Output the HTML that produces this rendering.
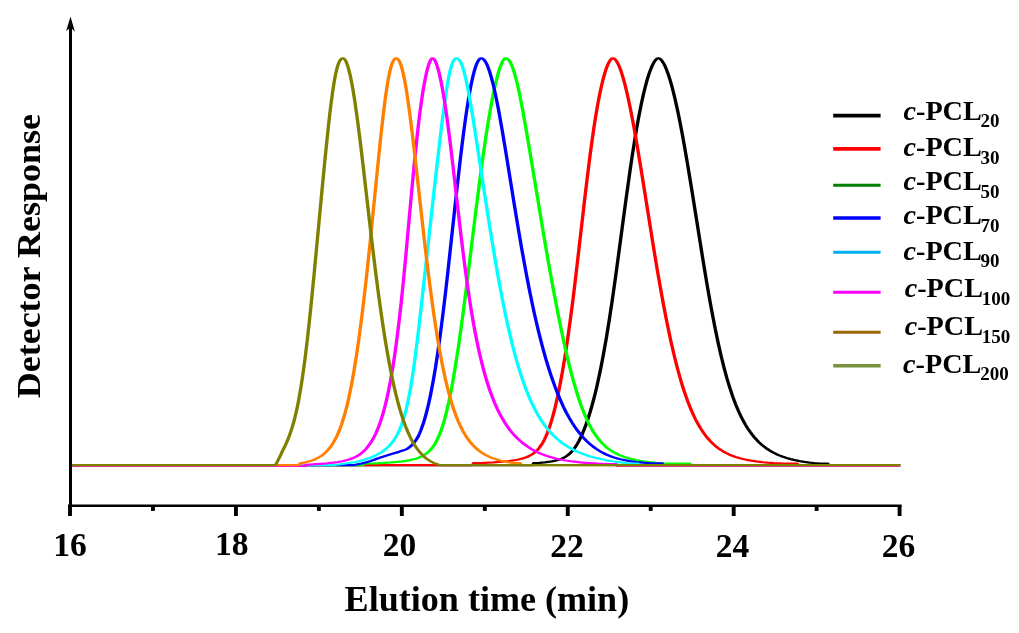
<!DOCTYPE html>
<html lang="en"><head><meta charset="utf-8"><title>GPC traces of c-PCL</title>
<style>html,body{margin:0;padding:0;background:#fff}body{width:1019px;height:633px;overflow:hidden}svg{display:block}</style></head>
<body>
<svg width="1019" height="633" viewBox="0 0 1019 633">
<rect width="1019" height="633" fill="#fff"/>
<g transform="scale(1.5 1)" fill="none" stroke-width="2.25" stroke-linejoin="round" stroke-linecap="butt">
<path stroke="#000000" d="M46.93 465.00 L355.27 465.00 L355.80 463.00 L359.40 462.80 L363.23 462.29 L366.49 461.69 L367.94 461.34 L369.61 460.86 L370.84 460.43 L371.99 459.97 L373.06 459.46 L374.31 458.77 L375.25 458.16 L376.14 457.50 L376.98 456.79 L377.99 455.81 L379.32 454.28 L380.75 452.26 L382.12 449.92 L383.45 447.23 L384.77 444.15 L385.92 441.10 L387.23 437.17 L388.39 433.32 L389.72 428.40 L390.91 423.62 L392.11 418.36 L393.32 412.60 L394.54 406.33 L395.77 399.51 L397.01 392.13 L398.07 385.36 L400.21 370.53 L402.17 355.43 L404.30 337.36 L406.42 317.70 L408.35 298.43 L410.45 276.23 L417.33 199.41 L420.07 170.07 L421.56 155.00 L423.08 140.53 L424.43 128.47 L425.80 117.08 L427.58 103.58 L429.18 92.81 L430.19 86.72 L430.99 82.22 L431.80 78.08 L432.59 74.31 L433.38 70.91 L434.16 67.91 L434.92 65.29 L435.86 62.60 L436.58 60.91 L436.93 60.22 L437.44 59.38 L437.77 58.95 L438.09 58.63 L438.40 58.42 L438.85 58.30 L439.38 58.43 L439.74 58.65 L440.11 58.99 L440.48 59.44 L440.86 60.01 L441.63 61.47 L442.42 63.38 L443.23 65.72 L444.04 68.48 L444.87 71.67 L445.71 75.27 L446.56 79.26 L447.42 83.64 L448.28 88.38 L450.02 98.92 L451.77 110.75 L453.31 122.04 L454.85 134.10 L456.38 146.82 L458.14 162.03 L461.20 189.88 L468.80 261.34 L470.98 281.01 L472.95 298.08 L474.94 314.42 L476.96 329.92 L479.00 344.51 L480.85 356.66 L482.74 368.02 L484.67 378.58 L486.64 388.32 L488.41 396.20 L490.47 404.47 L491.53 408.31 L492.60 411.98 L493.68 415.46 L494.78 418.76 L495.90 421.89 L497.03 424.86 L498.46 428.34 L499.92 431.57 L501.41 434.57 L502.93 437.35 L504.47 439.92 L506.03 442.29 L507.63 444.48 L509.57 446.86 L511.22 448.67 L513.23 450.63 L515.28 452.39 L517.36 453.96 L519.46 455.36 L521.96 456.80 L524.49 458.05 L527.05 459.12 L530.00 460.17 L532.97 461.05 L536.32 461.87 L539.67 462.53 L542.62 463.01 L545.54 463.40 L551.87 463.50 L552.40 465.00 L600.13 465.00"/>
<path stroke="#ff0000" d="M46.93 465.00 L315.20 465.00 L315.73 463.10 L320.36 463.00 L323.04 462.83 L328.70 462.40 L332.95 461.96 L336.71 461.46 L339.51 460.99 L342.03 460.47 L344.75 459.76 L346.40 459.23 L348.28 458.50 L349.66 457.87 L351.25 456.99 L352.43 456.23 L353.79 455.19 L354.81 454.28 L355.99 453.04 L357.31 451.39 L358.54 449.56 L359.68 447.51 L360.94 444.85 L361.97 442.30 L362.96 439.50 L363.92 436.41 L365.02 432.44 L366.11 428.03 L367.02 423.89 L368.09 418.61 L369.00 413.68 L370.07 407.44 L370.98 401.66 L372.05 394.38 L372.97 387.69 L374.81 373.01 L376.65 356.59 L378.49 338.46 L380.32 318.71 L382.00 299.31 L383.81 276.95 L389.77 199.46 L392.14 169.87 L393.43 154.67 L394.75 140.08 L395.92 127.93 L397.11 116.48 L398.67 102.92 L400.08 92.13 L400.97 86.04 L401.68 81.56 L402.38 77.44 L403.09 73.70 L403.79 70.34 L404.48 67.38 L405.16 64.82 L406.00 62.21 L406.64 60.59 L407.26 59.40 L407.56 58.96 L407.86 58.64 L408.14 58.42 L408.55 58.30 L409.05 58.43 L409.39 58.65 L409.73 58.99 L410.25 59.71 L410.96 61.06 L411.51 62.37 L412.24 64.49 L412.99 67.05 L413.75 70.03 L415.10 76.23 L415.88 80.32 L416.67 84.79 L418.08 93.48 L419.70 104.69 L420.94 113.89 L422.39 125.41 L423.85 137.67 L425.33 150.56 L428.09 175.80 L435.91 249.26 L438.13 269.29 L440.37 288.68 L442.64 307.26 L444.95 324.85 L447.28 341.35 L449.41 355.19 L450.61 362.44 L451.81 369.39 L454.02 381.09 L455.01 385.96 L456.26 391.77 L457.52 397.27 L458.79 402.47 L459.83 406.41 L461.13 411.08 L462.45 415.46 L463.78 419.56 L464.86 422.65 L466.23 426.28 L467.62 429.66 L469.02 432.80 L470.46 435.71 L471.91 438.41 L473.39 440.90 L475.20 443.63 L476.75 445.70 L478.64 447.97 L480.26 449.68 L482.25 451.54 L483.95 452.94 L486.05 454.45 L488.22 455.80 L490.47 456.99 L492.80 458.05 L495.21 458.98 L497.73 459.80 L500.80 460.63 L504.03 461.34 L507.95 462.03 L511.59 462.53 L516.03 463.01 L520.78 463.40 L531.33 463.50 L531.87 465.00 L600.13 465.00"/>
<path stroke="#00ff00" d="M46.93 465.00 L241.87 465.00 L242.40 463.60 L246.94 463.50 L251.02 463.28 L256.16 462.91 L260.72 462.48 L264.75 461.96 L267.84 461.45 L270.62 460.86 L273.14 460.18 L275.42 459.41 L277.15 458.68 L279.06 457.70 L280.53 456.79 L281.89 455.78 L283.41 454.42 L284.59 453.16 L285.91 451.48 L286.94 449.93 L288.12 447.87 L289.05 445.98 L290.11 443.49 L290.97 441.20 L291.96 438.21 L292.92 434.91 L293.85 431.29 L294.62 428.01 L295.53 423.75 L296.27 419.92 L297.16 414.96 L298.79 404.81 L300.55 392.09 L302.19 378.85 L303.84 364.08 L305.51 347.76 L307.20 329.97 L308.93 310.80 L310.69 290.39 L317.18 211.72 L319.98 178.96 L321.41 163.07 L322.85 147.73 L324.31 133.11 L325.59 121.04 L327.24 106.70 L328.70 95.22 L330.32 83.92 L331.73 75.46 L332.42 71.83 L333.10 68.60 L333.76 65.80 L334.56 62.91 L335.17 61.10 L335.90 59.46 L336.45 58.66 L336.71 58.43 L337.09 58.30 L337.66 58.43 L338.22 58.80 L338.78 59.43 L339.32 60.31 L339.85 61.44 L340.39 62.81 L340.91 64.42 L341.61 66.95 L342.66 71.53 L343.88 78.01 L345.13 85.67 L346.40 94.43 L348.46 110.21 L351.00 131.60 L353.68 155.32 L362.55 235.59 L365.56 261.78 L368.36 285.16 L371.40 309.21 L374.19 329.95 L376.97 349.08 L378.35 358.01 L379.74 366.49 L381.12 374.52 L382.27 380.87 L383.65 388.08 L384.80 393.75 L386.19 400.15 L387.36 405.16 L388.77 410.78 L389.96 415.16 L391.16 419.26 L392.62 423.83 L393.86 427.36 L395.37 431.27 L396.66 434.28 L398.24 437.60 L399.86 440.62 L401.53 443.36 L402.96 445.45 L404.72 447.73 L406.24 449.45 L408.11 451.32 L410.05 453.00 L412.06 454.50 L414.13 455.83 L416.27 457.02 L418.48 458.07 L421.14 459.13 L423.89 460.06 L426.73 460.85 L429.64 461.52 L433.04 462.17 L436.93 462.77 L440.85 463.25 L441.29 463.30 L459.73 463.70 L460.27 465.00 L600.13 465.00"/>
<path stroke="#0000ff" d="M46.93 465.00 L236.00 465.00 L238.33 464.33 L241.00 463.46 L243.67 462.46 L246.67 461.21 L249.00 460.10 L252.67 458.05 L254.67 457.04 L261.00 454.09 L266.00 451.85 L269.00 450.35 L270.67 449.38 L271.33 448.90 L272.00 448.32 L272.67 447.62 L273.33 446.83 L274.67 445.00 L275.67 443.39 L276.67 441.47 L277.67 439.26 L278.79 436.51 L279.62 433.75 L280.44 430.78 L281.24 427.58 L282.03 424.16 L282.91 419.95 L283.79 415.42 L284.65 410.54 L285.50 405.32 L286.34 399.73 L287.18 393.77 L288.84 380.71 L290.38 367.07 L292.00 351.02 L293.63 333.47 L295.25 314.51 L296.77 295.58 L298.49 272.98 L304.23 194.11 L306.53 163.66 L307.79 147.80 L308.96 133.93 L310.02 122.00 L311.09 110.82 L312.38 98.55 L313.67 87.67 L314.97 78.33 L316.16 71.24 L316.81 67.99 L317.34 65.63 L317.99 63.22 L318.53 61.57 L319.17 60.03 L319.70 59.12 L320.01 58.73 L320.33 58.47 L320.64 58.33 L320.85 58.30 L321.38 58.43 L321.90 58.80 L322.43 59.43 L322.97 60.31 L323.50 61.44 L324.04 62.81 L324.58 64.42 L325.30 66.95 L326.39 71.53 L327.68 78.01 L328.98 85.67 L330.29 94.43 L331.24 101.32 L332.40 110.21 L334.75 129.86 L337.17 151.55 L342.68 202.90 L345.38 227.43 L347.94 249.78 L350.58 271.64 L352.06 283.25 L353.57 294.59 L355.11 305.61 L356.41 314.54 L357.99 324.91 L359.33 333.26 L360.96 342.89 L362.34 350.60 L364.01 359.45 L365.43 366.49 L367.14 374.52 L368.88 382.10 L370.35 388.08 L372.12 394.85 L373.92 401.18 L375.73 407.08 L377.56 412.56 L379.41 417.65 L381.27 422.34 L383.15 426.67 L385.05 430.64 L386.96 434.28 L388.88 437.60 L391.14 441.10 L393.10 443.80 L395.40 446.62 L397.40 448.78 L399.76 451.03 L402.14 453.00 L404.57 454.73 L407.04 456.24 L408.47 457.02 L409.93 457.73 L412.90 458.99 L414.42 459.55 L416.36 460.18 L419.97 461.15 L422.05 461.61 L424.20 462.02 L428.71 462.71 L434.08 463.30 L441.47 463.40 L442.00 465.00 L600.13 465.00"/>
<path stroke="#00ffff" d="M46.93 465.00 L223.33 465.00 L237.40 462.00 L242.45 459.92 L244.37 459.03 L246.06 458.17 L248.07 457.01 L250.07 455.70 L252.06 454.20 L253.72 452.75 L255.34 451.14 L256.91 449.35 L258.42 447.37 L259.63 445.56 L260.80 443.60 L261.92 441.48 L262.99 439.18 L264.02 436.71 L265.01 434.05 L265.95 431.19 L266.85 428.13 L267.71 424.84 L268.53 421.34 L269.32 417.60 L270.08 413.62 L270.81 409.39 L271.51 404.90 L272.19 400.15 L273.63 388.77 L274.88 377.25 L276.11 364.63 L277.45 349.45 L278.80 332.97 L281.47 298.20 L288.24 206.07 L291.37 164.39 L294.26 127.88 L295.44 113.84 L296.47 102.39 L297.59 90.84 L298.58 81.87 L299.55 74.23 L300.04 70.94 L300.53 68.02 L301.04 65.46 L301.42 63.79 L301.95 61.91 L302.35 60.75 L302.91 59.55 L303.35 58.91 L303.65 58.61 L303.96 58.41 L304.44 58.30 L304.78 58.36 L305.28 58.65 L305.76 59.20 L306.24 60.01 L306.56 60.68 L307.03 61.91 L307.50 63.38 L307.96 65.09 L308.89 69.24 L309.82 74.33 L310.76 80.32 L311.87 88.38 L313.51 101.77 L315.58 120.38 L317.75 141.30 L323.07 193.95 L325.61 218.56 L328.47 245.20 L330.97 267.31 L332.61 281.01 L334.04 292.47 L335.49 303.62 L336.96 314.42 L338.47 324.85 L339.74 333.25 L341.29 342.94 L342.60 350.68 L344.21 359.58 L345.57 366.65 L347.25 374.71 L348.67 381.09 L350.41 388.32 L351.90 394.01 L353.41 399.39 L355.28 405.45 L356.87 410.17 L358.83 415.46 L360.51 419.56 L362.57 424.13 L364.34 427.66 L366.51 431.57 L368.37 434.57 L370.66 437.88 L372.61 440.41 L375.01 443.19 L377.46 445.70 L379.97 447.97 L382.53 450.00 L383.83 450.94 L385.58 452.11 L388.23 453.72 L391.35 455.36 L393.15 456.21 L395.39 457.18 L397.18 457.88 L399.41 458.68 L403.79 460.05 L408.36 461.25 L412.17 462.10 L418.56 463.40 L425.20 463.50 L425.73 465.00 L600.13 465.00"/>
<path stroke="#ff00ff" d="M46.93 465.80 L203.33 465.80 L203.87 464.97 L218.07 463.26 L222.39 462.60 L224.97 462.08 L227.34 461.49 L229.53 460.81 L231.55 460.04 L233.73 459.01 L235.46 458.00 L237.09 456.87 L238.62 455.59 L240.07 454.15 L241.46 452.55 L242.78 450.76 L244.06 448.77 L245.28 446.56 L246.86 443.31 L248.19 440.16 L249.30 437.17 L250.57 433.32 L251.63 429.68 L252.66 425.72 L253.68 421.42 L254.69 416.77 L255.67 411.74 L256.64 406.33 L257.59 400.52 L258.52 394.30 L259.44 387.66 L260.34 380.60 L261.23 373.12 L262.81 358.28 L264.33 342.03 L265.81 324.42 L267.37 303.80 L268.76 283.75 L270.11 262.82 L274.69 187.55 L276.40 160.59 L278.28 133.56 L279.18 121.87 L280.09 110.91 L281.15 99.40 L282.21 89.09 L283.29 80.11 L284.36 72.57 L284.89 69.36 L285.41 66.55 L285.93 64.14 L286.44 62.14 L286.93 60.55 L287.41 59.38 L287.87 58.63 L288.09 58.42 L288.42 58.30 L288.65 58.36 L288.88 58.53 L289.25 58.99 L289.76 60.01 L290.15 61.06 L290.69 62.86 L291.11 64.49 L292.10 69.24 L293.12 75.27 L294.16 82.51 L295.21 90.89 L296.26 100.33 L297.16 109.21 L298.06 118.73 L300.02 141.30 L301.83 163.98 L305.68 214.44 L307.46 237.04 L309.30 259.34 L311.05 279.08 L313.07 299.94 L314.23 310.86 L315.22 319.69 L316.45 329.92 L317.51 338.14 L318.60 346.07 L319.72 353.70 L321.11 362.44 L322.54 370.74 L324.03 378.58 L325.31 384.76 L326.62 390.64 L328.25 397.27 L329.64 402.47 L331.37 408.31 L332.84 412.86 L334.66 417.95 L336.54 422.65 L338.47 426.97 L340.46 430.94 L342.51 434.57 L344.61 437.88 L346.77 440.90 L348.99 443.63 L351.66 446.54 L354.02 448.82 L355.23 449.86 L356.86 451.18 L358.11 452.10 L359.80 453.25 L361.09 454.06 L362.84 455.07 L364.18 455.78 L366.00 456.66 L369.28 458.04 L371.22 458.74 L373.20 459.39 L375.23 459.98 L377.32 460.52 L381.68 461.48 L386.89 462.37 L389.95 462.79 L393.14 463.16 L396.47 463.49 L400.67 463.84 L405.11 464.14 L410.80 464.14 L411.33 465.80 L600.13 465.80"/>
<path stroke="#ff8000" d="M46.93 465.00 L199.40 465.00 L199.93 463.50 L200.84 463.10 L202.72 462.59 L204.41 462.03 L205.69 461.54 L206.98 460.97 L208.47 460.21 L209.74 459.46 L211.00 458.61 L212.24 457.64 L213.27 456.74 L214.28 455.75 L215.28 454.65 L216.27 453.44 L217.25 452.11 L218.02 450.96 L218.97 449.39 L219.72 448.04 L221.02 445.42 L222.10 442.93 L223.35 439.68 L224.40 436.60 L225.60 432.63 L226.61 428.88 L227.61 424.79 L228.59 420.35 L229.56 415.53 L230.52 410.34 L231.47 404.74 L232.40 398.73 L234.10 386.61 L235.01 379.38 L235.91 371.72 L237.70 355.07 L239.47 336.70 L241.21 316.70 L243.07 293.41 L244.77 270.64 L246.57 244.98 L251.91 164.98 L253.69 139.00 L255.44 115.41 L256.93 97.73 L257.92 87.48 L258.79 79.65 L259.66 72.96 L260.56 67.46 L261.08 64.88 L261.48 63.22 L261.88 61.79 L262.29 60.61 L262.85 59.41 L263.28 58.79 L263.72 58.42 L264.17 58.30 L264.60 58.42 L265.03 58.79 L265.46 59.41 L266.02 60.61 L266.43 61.79 L266.84 63.22 L267.25 64.88 L267.80 67.46 L268.74 72.96 L269.68 79.65 L270.62 87.48 L271.57 96.37 L273.20 113.84 L275.00 135.46 L276.99 161.15 L282.96 240.97 L285.01 266.75 L286.96 289.69 L289.12 313.23 L290.31 325.22 L291.35 335.09 L292.40 344.56 L293.47 353.60 L294.56 362.22 L295.66 370.40 L296.97 379.38 L298.12 386.61 L299.28 393.40 L300.47 399.76 L301.68 405.70 L302.91 411.23 L304.17 416.36 L305.67 421.87 L306.99 426.19 L308.55 430.79 L309.93 434.38 L311.57 438.18 L313.25 441.58 L314.97 444.62 L316.74 447.32 L317.76 448.73 L318.80 450.04 L319.85 451.25 L321.18 452.66 L322.26 453.69 L323.62 454.88 L325.00 455.95 L326.39 456.93 L327.80 457.81 L329.22 458.61 L331.23 459.59 L333.54 460.55 L336.14 461.45 L338.74 462.18 L340.73 462.65 L342.97 463.10 L346.80 463.10 L347.33 465.00 L600.13 465.00"/>
<path stroke="#808000" d="M46.93 465.00 L183.73 465.00 L187.18 454.90 L187.88 452.43 L189.81 446.55 L190.86 443.19 L191.74 440.15 L192.52 437.22 L193.32 434.00 L194.12 430.50 L195.04 426.12 L195.83 421.93 L196.62 417.41 L197.40 412.52 L198.17 407.27 L198.93 401.64 L200.41 389.19 L201.86 375.11 L203.29 359.39 L204.80 340.74 L206.31 320.32 L207.72 299.80 L209.25 276.50 L214.77 188.62 L216.85 156.33 L218.91 126.61 L219.83 114.45 L220.74 103.21 L221.75 91.96 L222.76 82.13 L223.69 74.62 L224.64 68.45 L225.18 65.64 L225.62 63.70 L226.08 62.06 L226.55 60.71 L227.03 59.66 L227.53 58.90 L227.79 58.64 L228.05 58.45 L228.32 58.34 L228.59 58.30 L228.99 58.42 L229.26 58.64 L229.53 58.96 L229.93 59.64 L230.47 60.93 L230.88 62.17 L231.42 64.19 L231.83 65.98 L232.37 68.71 L233.33 74.45 L234.30 81.35 L235.27 89.35 L236.39 99.74 L238.10 117.56 L240.12 141.18 L242.03 165.17 L246.43 222.45 L248.47 248.39 L250.54 273.71 L252.50 296.12 L254.82 320.73 L257.01 341.79 L258.20 352.35 L259.23 360.95 L260.27 369.12 L261.48 378.11 L262.70 386.50 L263.93 394.32 L265.16 401.57 L266.39 408.25 L267.62 414.40 L269.02 420.79 L270.42 426.53 L271.82 431.67 L273.20 436.25 L274.74 440.77 L276.25 444.69 L277.73 448.07 L279.34 451.26 L281.04 454.15 L281.93 455.50 L282.80 456.70 L283.77 457.93 L284.70 459.00 L285.70 460.04 L286.75 461.02 L287.89 461.98 L289.09 462.90 L293.00 465.00 L600.13 465.00"/>
</g>
<g transform="scale(1.5 1)" stroke="#000" stroke-width="2.6" fill="none">
<path d="M45.33 505.7 L601.07 505.7"/>
<path d="M46.67 505.7 L46.67 516.0"/>
<path d="M101.97 505.7 L101.97 510.9"/>
<path d="M157.28 505.7 L157.28 516.0"/>
<path d="M212.59 505.7 L212.59 510.9"/>
<path d="M267.89 505.7 L267.89 516.0"/>
<path d="M323.20 505.7 L323.20 510.9"/>
<path d="M378.51 505.7 L378.51 516.0"/>
<path d="M433.81 505.7 L433.81 510.9"/>
<path d="M489.12 505.7 L489.12 516.0"/>
<path d="M544.43 505.7 L544.43 510.9"/>
<path d="M599.73 505.7 L599.73 516.0"/>
</g>
<path d="M70.5 507.0 L70.5 28" stroke="#000" stroke-width="3" fill="none"/>
<path fill="#000" d="M70.5 16.6 L74.9 31.7 L71.6 28.2 L69.4 28.2 L66.1 31.2 Z"/>
<g font-family="'Liberation Serif', serif" font-weight="bold" fill="#000">
<text x="69.9" y="555.5" font-size="33.5" text-anchor="middle">16</text>
<text x="231.8" y="555.3" font-size="33.5" text-anchor="middle">18</text>
<text x="399.5" y="555.5" font-size="33.5" text-anchor="middle">20</text>
<text x="567.0" y="556.6" font-size="33.5" text-anchor="middle">22</text>
<text x="732.6" y="556.6" font-size="33.5" text-anchor="middle">24</text>
<text x="898.6" y="556.9" font-size="33.5" text-anchor="middle">26</text>
<text x="486.9" y="610.8" font-size="36.1" text-anchor="middle">Elution time (min)</text>
<text transform="translate(39.7 256.2) rotate(-90) scale(1 0.945)" font-size="36" text-anchor="middle">Detector Response</text>
<path d="M833.2 115.7 L880.6 115.7" stroke="#000000" stroke-width="3.7"/>
<text x="903.5" y="119.5" font-size="28.2"><tspan font-style="italic">c</tspan>-PCL<tspan font-size="19" dx="-1.2" dy="7.7">20</tspan></text>
<path d="M833.2 148.8 L880.6 148.8" stroke="#ff0000" stroke-width="3.7"/>
<text x="903.5" y="156.1" font-size="28.2"><tspan font-style="italic">c</tspan>-PCL<tspan font-size="19" dx="-1.2" dy="7.7">30</tspan></text>
<path d="M833.2 185.2 L880.6 185.2" stroke="#008000" stroke-width="3.1"/>
<text x="903.5" y="190.3" font-size="28.2"><tspan font-style="italic">c</tspan>-PCL<tspan font-size="19" dx="-1.2" dy="7.7">50</tspan></text>
<path d="M833.2 218 L880.6 218" stroke="#0000ff" stroke-width="3.7"/>
<text x="903.5" y="224.2" font-size="28.2"><tspan font-style="italic">c</tspan>-PCL<tspan font-size="19" dx="-1.2" dy="7.7">70</tspan></text>
<path d="M833.2 252.3 L880.6 252.3" stroke="#00b0f0" stroke-width="3.1"/>
<text x="903.5" y="259.7" font-size="28.2"><tspan font-style="italic">c</tspan>-PCL<tspan font-size="19" dx="-1.2" dy="7.7">90</tspan></text>
<path d="M833.2 292.3 L880.6 292.3" stroke="#ff00ff" stroke-width="3.1"/>
<text x="904.7" y="297" font-size="28.2"><tspan font-style="italic">c</tspan>-PCL<tspan font-size="19" dx="-1.2" dy="7.7">100</tspan></text>
<path d="M833.2 332.3 L880.6 332.3" stroke="#996600" stroke-width="2.9"/>
<text x="904.7" y="335.3" font-size="28.2"><tspan font-style="italic">c</tspan>-PCL<tspan font-size="19" dx="-1.2" dy="7.7">150</tspan></text>
<path d="M833.2 365.8 L880.6 365.8" stroke="#76923c" stroke-width="3.5"/>
<text x="903.1" y="372.7" font-size="28.2"><tspan font-style="italic">c</tspan>-PCL<tspan font-size="19" dx="-1.2" dy="7.7">200</tspan></text>
</g>
</svg>
</body></html>
